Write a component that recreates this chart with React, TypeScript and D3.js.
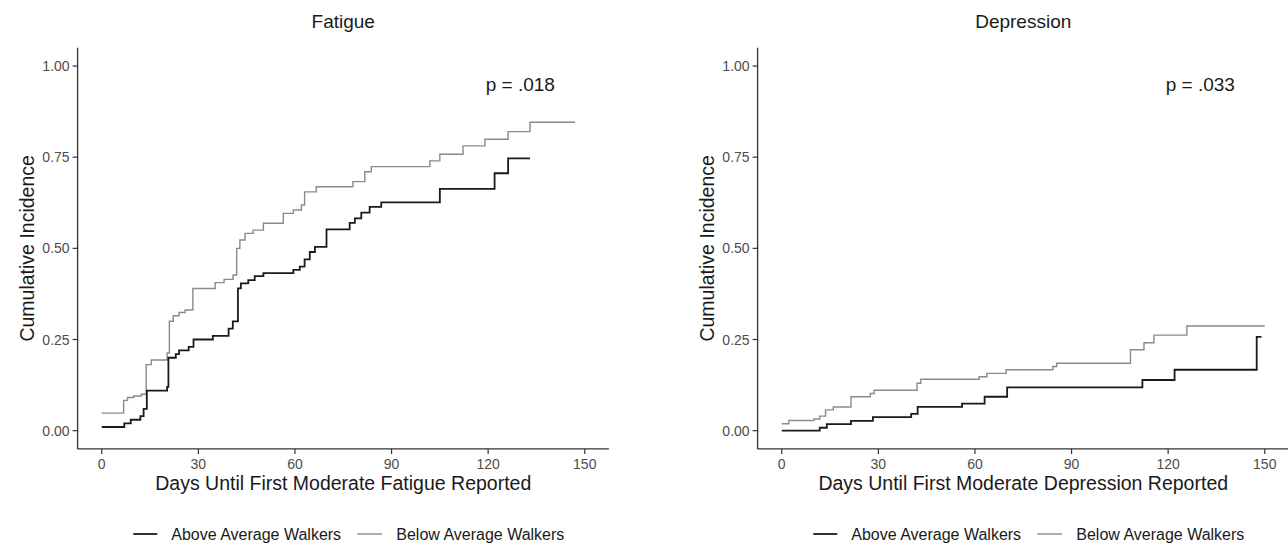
import React from "react";
import * as d3 from "d3";

// ---------- data ----------
const fatigueAboveDays = [0, 7, 9, 12, 13, 14, 20.3, 20.7, 23, 24, 27, 28.5, 34.5, 39.4, 40.7, 42.3, 43.2, 45.5, 47.5, 50.2, 59.5, 61.5, 63, 64.6, 66.2, 69.8, 77, 78.6, 80.6, 83.2, 86.8, 105, 122, 126.2, 133];
const fatigueAboveInc = [0.01, 0.02, 0.03, 0.04, 0.06, 0.11, 0.12, 0.2, 0.21, 0.22, 0.23, 0.25, 0.26, 0.28, 0.3, 0.39, 0.404, 0.413, 0.424, 0.432, 0.441, 0.45, 0.47, 0.49, 0.504, 0.552, 0.57, 0.582, 0.598, 0.614, 0.626, 0.663, 0.706, 0.747, 0.747];

const fatigueBelowDays = [0, 6.8, 8, 9.9, 12.3, 13.8, 15.4, 20.3, 21, 22.2, 24, 25.9, 28.3, 35.2, 38, 40.8, 41.9, 42.9, 44.5, 47, 50.2, 56.4, 59.5, 62, 63, 66.6, 78, 81.7, 83.7, 101.9, 105, 112.2, 119, 126.2, 133, 147];
const fatigueBelowInc = [0.048, 0.083, 0.091, 0.095, 0.1, 0.181, 0.194, 0.213, 0.3, 0.315, 0.324, 0.331, 0.39, 0.406, 0.415, 0.427, 0.5, 0.523, 0.541, 0.55, 0.569, 0.596, 0.605, 0.619, 0.655, 0.669, 0.683, 0.71, 0.724, 0.74, 0.758, 0.781, 0.799, 0.82, 0.846, 0.846];

const depressionAboveDays = [0, 11.8, 14, 21.5, 28.3, 40.2, 42.2, 56, 63, 70, 112, 122, 147.5, 149];
const depressionAboveInc = [0, 0.008, 0.018, 0.027, 0.037, 0.046, 0.065, 0.074, 0.093, 0.119, 0.139, 0.167, 0.257, 0.257];

const depressionBelowDays = [0, 2.2, 10, 11.8, 13.6, 16, 21.5, 27.5, 28.7, 42, 43.2, 61.3, 63.7, 69.7, 84.2, 85.4, 108.3, 112.5, 115.6, 125.8, 150];
const depressionBelowInc = [0.019, 0.028, 0.032, 0.04, 0.057, 0.065, 0.093, 0.102, 0.111, 0.13, 0.141, 0.148, 0.157, 0.167, 0.176, 0.185, 0.222, 0.241, 0.262, 0.287, 0.287];

const xTicks = [0, 30, 60, 90, 120, 150];
const yTicks = [0, 0.25, 0.5, 0.75, 1.0];
const seriesNames = ["Above Average Walkers", "Below Average Walkers"];
const panelTitles = ["Fatigue", "Depression"];
const xTitles = ["Days Until First Moderate Fatigue Reported", "Days Until First Moderate Depression Reported"];
const pValues = ["p = .018", "p = .033"];

// ---------- styles ----------
const FONT = "'Liberation Sans', Arial, Helvetica, sans-serif";
const BLACK = "#1a1a1a";
const GRAY = "#8a8a8a";

type Pt = { d: number; v: number };
const zip = (ds: number[], vs: number[]): Pt[] => ds.map((d, i) => ({ d, v: vs[i] }));

const panels = [
  {
    offset: 0,
    above: zip(fatigueAboveDays, fatigueAboveInc),
    below: zip(fatigueBelowDays, fatigueBelowInc),
  },
  {
    offset: 680,
    above: zip(depressionAboveDays, depressionAboveInc),
    below: zip(depressionBelowDays, depressionBelowInc),
  },
];

function Panel({ idx }: { idx: number }) {
  const p = panels[idx];
  const x = d3.scaleLinear().domain([-7.5, 157.5]).range([77.6 + p.offset, 608.9 + p.offset]);
  const y = d3.scaleLinear().domain([-0.05, 1.05]).range([448.9, 47.8]);
  const line = d3
    .line<Pt>()
    .x((q) => x(q.d))
    .y((q) => y(q.v))
    .curve(d3.curveStepAfter);
  const [x0, x1] = x.range();
  const [yb, yt] = y.range();
  const axisColor = "#333";
  const cx = (x0 + x1) / 2;
  const legLeft = cx + 7 - 217;
  return (
    <g>
      {/* series */}
      <path d={line(p.below) || ""} fill="none" stroke={GRAY} strokeWidth={1.4} />
      <path d={line(p.above) || ""} fill="none" stroke={BLACK} strokeWidth={1.8} />
      {/* axes */}
      <line x1={x0} x2={x0} y1={yt} y2={yb} stroke={axisColor} strokeWidth={1.3} />
      <line x1={x0} x2={x1} y1={yb} y2={yb} stroke={axisColor} strokeWidth={1.3} />
      {yTicks.map((t) => (
        <g key={"y" + t}>
          <line x1={x0 - 5} x2={x0} y1={y(t)} y2={y(t)} stroke={axisColor} strokeWidth={1.2} />
          <text x={x0 - 8} y={y(t)} dy="0.36em" textAnchor="end" fontSize={14} fill="#4d4d4d" fontFamily={FONT}>
            {t.toFixed(2)}
          </text>
        </g>
      ))}
      {xTicks.map((t) => (
        <g key={"x" + t}>
          <line x1={x(t)} x2={x(t)} y1={yb} y2={yb + 5} stroke={axisColor} strokeWidth={1.2} />
          <text x={x(t)} y={yb + 20} textAnchor="middle" fontSize={14} fill="#4d4d4d" fontFamily={FONT}>
            {t}
          </text>
        </g>
      ))}
      {/* titles */}
      <text x={cx} y={28} textAnchor="middle" fontSize={19} fill={BLACK} fontFamily={FONT}>
        {panelTitles[idx]}
      </text>
      <text x={cx} y={490} textAnchor="middle" fontSize={19.5} fill={BLACK} fontFamily={FONT}>
        {xTitles[idx]}
      </text>
      <text
        transform={`translate(${27 + p.offset},${(yt + yb) / 2}) rotate(-90)`}
        dy="0.36em"
        textAnchor="middle"
        fontSize={19.5}
        fill={BLACK}
        fontFamily={FONT}
      >
        Cumulative Incidence
      </text>
      <text x={x(130)} y={y(0.95)} dy="0.36em" textAnchor="middle" fontSize={19} fill={BLACK} fontFamily={FONT}>
        {pValues[idx]}
      </text>
      {/* legend */}
      <line x1={legLeft} x2={legLeft + 24} y1={534} y2={534} stroke={BLACK} strokeWidth={1.8} />
      <text x={legLeft + 38} y={534} dy="0.36em" fontSize={16} fill={BLACK} fontFamily={FONT}>
        {seriesNames[0]}
      </text>
      <line x1={legLeft + 224} x2={legLeft + 249} y1={534} y2={534} stroke={GRAY} strokeWidth={1.4} />
      <text x={legLeft + 263} y={534} dy="0.36em" fontSize={16} fill={BLACK} fontFamily={FONT}>
        {seriesNames[1]}
      </text>
    </g>
  );
}

export default function App() {
  return (
    <div style={{ position: "absolute", left: 0, top: 0, width: 1288, height: 550, background: "#fff" }}>
      <svg width={1288} height={550} viewBox="0 0 1288 550" style={{ display: "block" }}>
        <rect x={0} y={0} width={1288} height={550} fill="#fff" />
        <Panel idx={0} />
        <Panel idx={1} />
      </svg>
    </div>
  );
}
